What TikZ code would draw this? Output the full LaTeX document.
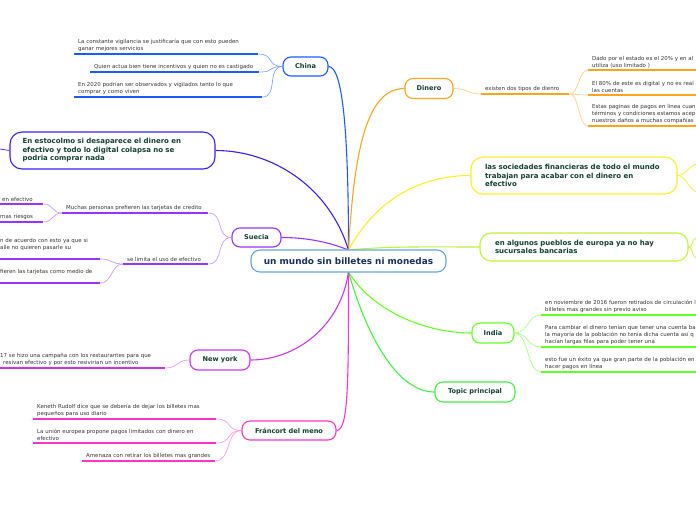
\documentclass[tikz,border=0pt]{standalone}
\usepackage{fontspec}
\setmainfont{DejaVu Sans}
\definecolor{rootc}{HTML}{62A8E0}
\definecolor{roott}{HTML}{1A2D5C}
\definecolor{titleg}{HTML}{123F30}
\definecolor{txtg}{HTML}{333333}
\definecolor{chinac}{HTML}{1E5BFF}
\definecolor{chinal}{HTML}{7FA6FF}
\definecolor{estc}{HTML}{3A1FF5}
\definecolor{dinc}{HTML}{FFA41B}
\definecolor{dinl}{HTML}{FFCF85}
\definecolor{yelc}{HTML}{FFEE22}
\definecolor{lgc}{HTML}{BDF53A}
\definecolor{suec}{HTML}{9933FF}
\definecolor{suel}{HTML}{C99BFF}
\definecolor{nyc}{HTML}{CC33EE}
\definecolor{nyl}{HTML}{E59BF5}
\definecolor{frc}{HTML}{FF33CC}
\definecolor{frl}{HTML}{FF9BE5}
\definecolor{indc}{HTML}{66FF22}
\definecolor{indl}{HTML}{A8FF85}
\definecolor{topc}{HTML}{44EE44}
\begin{document}
\begin{tikzpicture}[x=1pt,y=-1pt,
  topic/.style={draw=#1, line width=1.1pt, rounded corners=8pt, fill=white, inner sep=0pt,
    font=\fontsize{6.6}{8.5}\selectfont\bfseries, text=titleg},
  bigtopic/.style={topic=#1, rounded corners=12pt, align=left,
    font=\fontsize{7}{8.5}\selectfont\bfseries},
  sub/.style={anchor=south west, align=left, inner xsep=4pt, inner ysep=2pt,
    font=\fontsize{5.45}{7}\selectfont, text=txtg},
  ul/.style={draw=#1, line width=1.6pt},
  br/.style={draw=#1, line width=1.1pt},
  lk/.style={draw=#1, line width=0.7pt}]
\useasboundingbox (0,0) rectangle (696,520);
\clip (0,0) rectangle (696,520);

% ---------- main nodes ----------
\node[topic=chinac, minimum width=45pt, minimum height=19pt] (china) at (305.5,66.5) {China};
\node[topic=dinc, minimum width=48pt, minimum height=20pt] (dinero) at (429,88.5) {Dinero};
\node[bigtopic=estc, minimum width=205pt, minimum height=37pt, text width=180pt,
  inner xsep=12.5pt] (estoc) at (112.5,150.5)
  {En estocolmo si desaparece el dinero en\\efectivo y todo lo digital colapsa no se\\podria comprar nada};
\node[bigtopic=yelc, minimum width=206pt, minimum height=37pt, text width=178pt,
  inner xsep=14pt] (yellow) at (574,175.5)
  {las sociedades financieras de todo el mundo\\trabajan para acabar con el dinero en\\efectivo};
\node[bigtopic=lgc, rounded corners=11pt, minimum width=208pt, minimum height=28pt, text width=178pt,
  inner xsep=15pt] (lgreen) at (584,247)
  {en algunos pueblos de europa ya no hay\\sucursales bancarias};
\node[topic=suec, minimum width=49pt, minimum height=19pt] (suecia) at (256.5,237.5) {Suecia};
\node[topic=nyc, minimum width=60pt, minimum height=20pt] (ny) at (220,360) {New york};
\node[topic=indc, minimum width=42pt, minimum height=20pt] (india) at (493,333) {India};
\node[topic=topc, minimum width=80pt, minimum height=20pt] (topic) at (475,392) {Topic principal};
\node[topic=frc, minimum width=94pt, minimum height=19pt] (franc) at (289,430.5) {Fráncort del meno};

% ---------- main branches (root drawn afterwards on top) ----------
\coordinate (rtop) at (348.5,250);
\coordinate (rbot) at (348.5,272);
\draw[br=chinac] (rtop) .. controls +(0,-120) and +(14,0) .. (china.east);
\draw[br=dinc] (rtop) .. controls +(6,-110) and +(-35,0) .. (dinero.west);
\draw[br=estc] (rtop) .. controls +(-20,-65) and +(55,0) .. (estoc.east);
\draw[br=yelc] (rtop) .. controls +(30,-55) and +(-45,0) .. (yellow.west);
\draw[br=suec] (rtop) .. controls +(-20,-8) and +(25,0) .. (suecia.east);
\draw[br=lgc] (rtop) .. controls +(40,-4) and +(-45,0) .. (lgreen.west);
\draw[br=nyc] (rbot) .. controls +(-8,55) and +(45,0) .. (ny.east);
\draw[br=indc] (rbot) .. controls +(25,40) and +(-45,0) .. (india.west);
\draw[br=topc] (rbot) .. controls +(20,70) and +(-35,0) .. (topic.west);
\draw[br=frc] (rbot) .. controls +(0,110) and +(12,0) .. (franc.east);

\node[draw=rootc, line width=1.1pt, rounded corners=9pt, fill=white, inner sep=0pt,
  minimum width=195pt, minimum height=22pt, font=\fontsize{8.9}{10}\selectfont\bfseries, text=roott]
  (root) at (348.5,261) {un mundo sin billetes ni monedas};

% ---------- China ----------
\node[sub, text width=176pt] (c1) at (74,54) {La constante vigilancia se justificaría que con esto pueden\\ganar mejores servicios};
\node[sub, text width=161pt] (c2) at (90,72) {Quien actua bien tiene incentivos y quien no es castigado};
\node[sub, text width=180pt] (c3) at (74,97) {En 2020 podrían ser observados y vigilados tanto lo que\\comprar y como viven};
\foreach \n in {c1,c2,c3} {
  \draw[ul=chinac] (\n.south west) -- (\n.south east);
  \draw[lk=chinal] (china.west) .. controls +(-16,0) and +(16,0) .. (\n.south east);
}

% ---------- Dinero ----------
\node[sub, text width=80pt] (d1) at (481,94) {existen dos tipos de dienro};
\draw[ul=dinc] (d1.south west) -- (d1.south east);
\draw[lk=dinl] (dinero.east) .. controls +(14,0) and +(-14,0) .. (d1.south west);
\node[sub, text width=110pt] (d2) at (588,70) {Dado por el estado es el 20\% y en al\\utiliza (uso limitado )};
\node[sub, text width=110pt] (d3) at (588,95) {El 80\% de este es digital y no es real\\las cuentas};
\node[sub, text width=110pt] (d4) at (588,126) {Estas paginas de pagos en linea cuan\\términos y condiciones estamos acep\\nuestros daños a muchas compañías};
\foreach \n in {d2,d3,d4} {
  \draw[ul=dinc] (\n.south west) -- (\n.south east);
  \draw[lk=dinl] (d1.south east) .. controls +(10,0) and +(-10,0) .. (\n.south west);
}

% ---------- Estocolmo off-screen link ----------
\coordinate (eoff) at (0,149);
\draw[lk=estc] (estoc.west) .. controls +(-5,0) and +(4,1) .. (eoff);

% ---------- Yellow / light green off-screen links ----------
\coordinate (yoff1) at (696,164);
\coordinate (yoff2) at (696,192);
\draw[lk=yelc] (yellow.east) .. controls +(8,0) and +(-8,3) .. (yoff1);
\draw[lk=yelc] (yellow.east) .. controls +(8,0) and +(-8,-4) .. (yoff2);
\coordinate (goff1) at (696,238);
\coordinate (goff2) at (696,258);
\draw[lk=lgc] (lgreen.east) .. controls +(5,0) and +(-5,2) .. (goff1);
\draw[lk=lgc] (lgreen.east) .. controls +(5,0) and +(-5,-2) .. (goff2);

% ---------- Suecia ----------
\node[sub, text width=138pt] (s1) at (62,213) {Muchas personas prefieren las tarjetas de credito};
\node[sub, text width=77pt] (s2) at (123,264) {se limita el uso de efectivo};
\foreach \n in {s1,s2} {
  \draw[ul=suec] (\n.south west) -- (\n.south east);
  \draw[lk=suel] (suecia.west) .. controls +(-16,0) and +(16,0) .. (\n.south east);
}
\node[sub, text width=37pt] (s1a) at (-2,204) {en efectivo};
\node[sub, text width=39pt] (s1b) at (-4,222) {mas riesgos};
\foreach \n in {s1a,s1b} {
  \draw[ul=suec] (\n.south west) -- (\n.south east);
  \draw[lk=suel] (s1.south west) .. controls +(-10,0) and +(10,0) .. (\n.south east);
}
\node[sub, text width=96pt] (s2a) at (-4,259) {n de acuerdo con esto ya que si\\alle no quieren pasarle su\\\mbox{}};
\node[sub, text width=96pt] (s2b) at (-4,283) {fieren las tarjetas como medio de\\\mbox{}};
\foreach \n in {s2a,s2b} {
  \draw[ul=suec] (\n.south west) -- (\n.south east);
  \draw[lk=suel] (s2.south west) .. controls +(-12,0) and +(12,0) .. (\n.south east);
}

% ---------- New york ----------
\node[sub, text width=161pt] (n1) at (-4,368) {17 se hizo una campaña con los restaurantes para que\\\hspace*{3pt}resivan efectivo y por esto resivirian un incentivo};
\draw[ul=nyc] (n1.south west) -- (n1.south east);
\draw[lk=nyl] (ny.west) .. controls +(-14,0) and +(14,0) .. (n1.south east);

% ---------- Francort ----------
\node[sub, text width=175pt] (f1) at (33,419) {Keneth Rudolf dice que se debería de dejar los billetes mas\\pequeños para uso diario};
\node[sub, text width=175pt] (f2) at (33,443) {La unión europea propone pagos limitados con dinero en\\efectivo};
\node[sub, text width=125pt] (f3) at (82,461) {Amenaza con retirar los billetes mas grandes};
\foreach \n in {f1,f2,f3} {
  \draw[ul=frc] (\n.south west) -- (\n.south east);
  \draw[lk=frl] (franc.west) .. controls +(-16,0) and +(16,0) .. (\n.south east);
}

% ---------- India ----------
\node[sub, text width=160pt] (i1) at (541,315) {en noviembre de 2016 fueron retirados de circulación l\\billetes mas grandes sin previo aviso};
\node[sub, text width=160pt] (i2) at (541,347) {Para cambiar el dinero tenían que tener una cuenta ba\\la mayoría de la población no tenía dicha cuenta así q\\hacían largas filas para poder tener una};
\node[sub, text width=160pt] (i3) at (541,372) {esto fue un éxito ya que gran parte de la población en\\hacer pagos en línea};
\foreach \n in {i1,i2,i3} {
  \draw[ul=indc] (\n.south west) -- (\n.south east);
  \draw[lk=indl] (india.east) .. controls +(14,0) and +(-14,0) .. (\n.south west);
}
\end{tikzpicture}
\end{document}
